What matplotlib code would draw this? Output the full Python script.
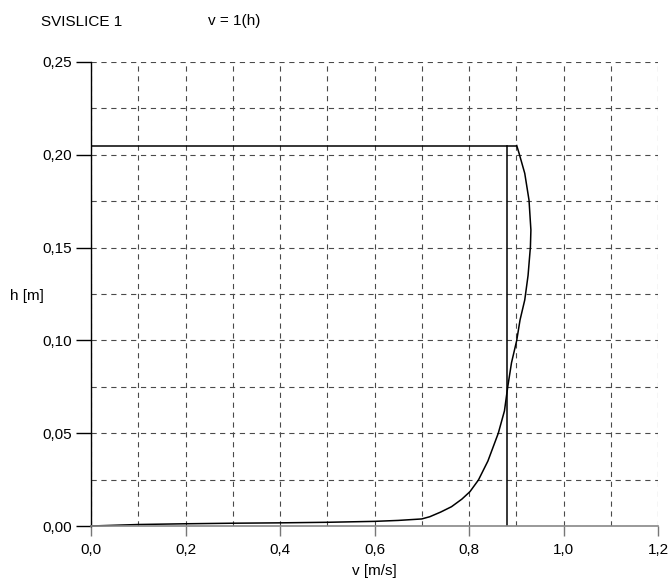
import matplotlib
matplotlib.use("Agg")
import matplotlib.pyplot as plt
from matplotlib.ticker import MultipleLocator, FuncFormatter

plt.rcParams['font.family'] = ['Liberation Sans', 'DejaVu Sans']

# velocity profile (v [m/s], h [m])
v_profile = [0.0, 0.1, 0.2, 0.3, 0.4, 0.5, 0.6, 0.65, 0.7, 0.717, 0.74, 0.763, 0.785,
             0.802, 0.82, 0.84, 0.862, 0.875, 0.882, 0.89, 0.901, 0.908, 0.918, 0.925,
             0.930, 0.931, 0.927, 0.918, 0.906, 0.901]
h_profile = [0.0, 0.0008, 0.0012, 0.0015, 0.0017, 0.002, 0.0025, 0.003, 0.0038, 0.005,
             0.0075, 0.0104, 0.0145, 0.0185, 0.0248, 0.035, 0.05, 0.062, 0.075, 0.088,
             0.1, 0.111, 0.1218, 0.135, 0.1505, 0.1595, 0.1756, 0.19, 0.2008, 0.205]

# water level and mean velocity
h_level = 0.205
v_level_end = 0.90
v_mean = 0.88

FS = 11

fig = plt.figure(figsize=(6.71, 5.78), dpi=100)
ax = fig.add_axes([91/671, 52/578, 567/671, 464/578])

ax.set_xlim(0, 1.2)
ax.set_ylim(0, 0.25)

ax.xaxis.set_major_locator(MultipleLocator(0.2))
ax.xaxis.set_minor_locator(MultipleLocator(0.1))
ax.yaxis.set_major_locator(MultipleLocator(0.05))
ax.yaxis.set_minor_locator(MultipleLocator(0.025))

ax.xaxis.set_major_formatter(FuncFormatter(lambda x, p: f"{x:.1f}".replace('.', ',')))
ax.yaxis.set_major_formatter(FuncFormatter(lambda y, p: f"{y:.2f}".replace('.', ',')))

ax.grid(True, which='both', linestyle=(0, (4.7, 4.2)), color='#4a4a4a', linewidth=0.8)
ax.set_axisbelow(True)

for s in ['top', 'right']:
    ax.spines[s].set_visible(False)
ax.spines['left'].set_color('black')
ax.spines['left'].set_linewidth(1.0)
ax.spines['bottom'].set_color('#888888')
ax.spines['bottom'].set_linewidth(1.2)

ax.tick_params(axis='x', which='major', direction='out', length=7.5, width=1.0, color='#777777',
               labelsize=FS, pad=4.5)
ax.tick_params(axis='y', which='major', direction='out', length=10.5, width=1.0, color='black',
               labelsize=FS, pad=3.5)
ax.tick_params(which='minor', length=0)

ax.plot(v_profile, h_profile, color='black', linewidth=1.1, clip_on=False)
ax.plot([0, v_level_end], [h_level, h_level], color='black', linewidth=1.1)
ax.plot([v_mean, v_mean], [0, h_level], color='black', linewidth=1.1)

fig.text((91 + 567/2)/671, 1 - 575/578, 'v [m/s]', fontsize=FS, va='baseline', ha='center')
fig.text(10/671, 1 - 300/578, 'h [m]', fontsize=FS, va='baseline', ha='left')

fig.text(41/671, 1 - 25.5/578, 'SVISLICE 1', fontsize=FS, va='baseline', ha='left')
fig.text(207.5/671, 1 - 25.5/578, 'v = 1(h)', fontsize=FS, va='baseline', ha='left')

fig.savefig('out.png', dpi=100)
